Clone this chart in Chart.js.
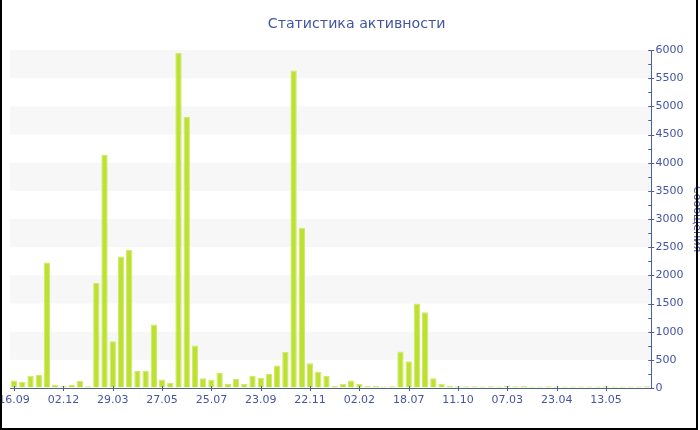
<!DOCTYPE html>
<html><head><meta charset="utf-8">
<script src="https://cdn.jsdelivr.net/npm/chart.js@4"></script>
<style>
html,body{margin:0;padding:0;background:#fff;}
#wrap{position:relative;width:700px;height:430px;overflow:hidden;background:#fff;}
#c{position:absolute;left:-20px;top:0;}
#frame{position:absolute;left:0;top:0;width:698px;height:430px;box-sizing:border-box;border-left:2px solid #000;border-right:2px solid #000;border-bottom:2px solid #000;pointer-events:none;}
</style></head>
<body><div id="wrap"><canvas id="c" width="740" height="430" style="width:740px;height:430px"></canvas><div id="frame"></div></div>
<script>
const chartTitle = 'Статистика активности';
const axisTitle = 'Сообщения';
const tickLabels = ['16.09','02.12','29.03','27.05','25.07','23.09','22.11','02.02','18.07','11.10','07.03','23.04','13.05'];
const tickEvery = 6;
const values = [
  135, 106, 218, 229, 2229, 59, 41, 59, 129, 29,
  1865, 4135, 829, 2335, 2453, 300, 300, 1129, 153, 88,
  5953, 4812, 753, 171, 147, 265, 71, 159, 71, 218,
  176, 247, 400, 641, 5635, 2847, 441, 288, 212, 35,
  76, 135, 71, 35, 41, 26, 30, 647, 476, 1500,
  1347, 171, 76, 38, 33, 30, 30, 28, 30, 28,
  42, 30, 35, 28, 27, 30, 28, 27, 27, 28,
  27, 28, 30, 28, 27, 27, 28, 30
];
const yMin = 0, yMax = 6000, yStep = 500;
const categories = values.map((v, i) => i % tickEvery === 0 ? tickLabels[i / tickEvery] : '');

const textColor = '#4355a2';
const axisColor = '#4d5ea4';
const fontFamily = "'DejaVu Sans', Verdana, sans-serif";

const decor = {
  id: 'decor',
  beforeDraw(chart) {
    const {ctx, chartArea: a, scales: {y}} = chart;
    ctx.save();
    ctx.fillStyle = '#f7f7f7';
    for (let v = yStep; v < yMax; v += 2 * yStep) {
      const t = y.getPixelForValue(v + yStep), b = y.getPixelForValue(v);
      ctx.fillRect(a.left, t, a.right - a.left, b - t);
    }
    ctx.restore();
  },
  afterDraw(chart) {
    const {ctx, chartArea: a, scales: {x, y}} = chart;
    ctx.save();
    ctx.strokeStyle = axisColor;
    ctx.lineWidth = 1;
    ctx.beginPath();
    for (let v = yMin; v <= yMax; v += yStep) {
      const py = Math.round(y.getPixelForValue(v)) + 0.5;
      ctx.moveTo(a.right - 3, py); ctx.lineTo(a.right + 3, py);
      if (v < yMax) {
        const pm = Math.round(y.getPixelForValue(v + yStep / 2)) + 0.5;
        ctx.moveTo(a.right - 3, pm); ctx.lineTo(a.right, pm);
      }
    }
    for (let i = 0; i < values.length; i += tickEvery) {
      const px = Math.round(x.getPixelForValue(i)) + 0.5;
      ctx.moveTo(px, a.bottom - 2); ctx.lineTo(px, a.bottom + 3);
    }
    ctx.stroke();
    ctx.restore();
  }
};

new Chart(document.getElementById('c'), {
  type: 'bar',
  data: {
    labels: categories,
    datasets: [{
      data: values,
      backgroundColor: '#bde130',
      borderColor: '#cfe968',
      borderWidth: 1,
      categoryPercentage: 1,
      barPercentage: 0.77
    }]
  },
  options: {
    responsive: false,
    animation: false,
    layout: {padding: {left: 30, right: 16.8, top: 0, bottom: 17.8}},
    plugins: {
      legend: {display: false},
      tooltip: {enabled: false},
      title: {
        display: true, text: chartTitle, color: textColor,
        font: {family: fontFamily, size: 14.2, weight: 'normal', lineHeight: 1.2},
        padding: {top: 16, bottom: 17}
      }
    },
    scales: {
      x: {
        grid: {display: false, drawTicks: false, tickLength: 0},
        border: {display: true, color: axisColor, width: 1},
        ticks: {
          autoSkip: false, maxRotation: 0, minRotation: 0, padding: 5.5,
          color: textColor, font: {family: fontFamily, size: 11},
          callback: (v, i) => categories[i]
        }
      },
      y: {
        position: 'right',
        min: yMin, max: yMax,
        grid: {drawOnChartArea: false, drawTicks: false},
        border: {display: true, color: axisColor, width: 1},
        ticks: {stepSize: yStep, padding: 4.3, color: textColor, font: {family: fontFamily, size: 11},
          callback: v => String(v)},
        title: {display: true, text: axisTitle, color: textColor, font: {family: fontFamily, size: 11, lineHeight: 1.2}, padding: {top: 0, bottom: 2.2}}
      }
    }
  },
  plugins: [decor]
});
</script>
</body></html>
